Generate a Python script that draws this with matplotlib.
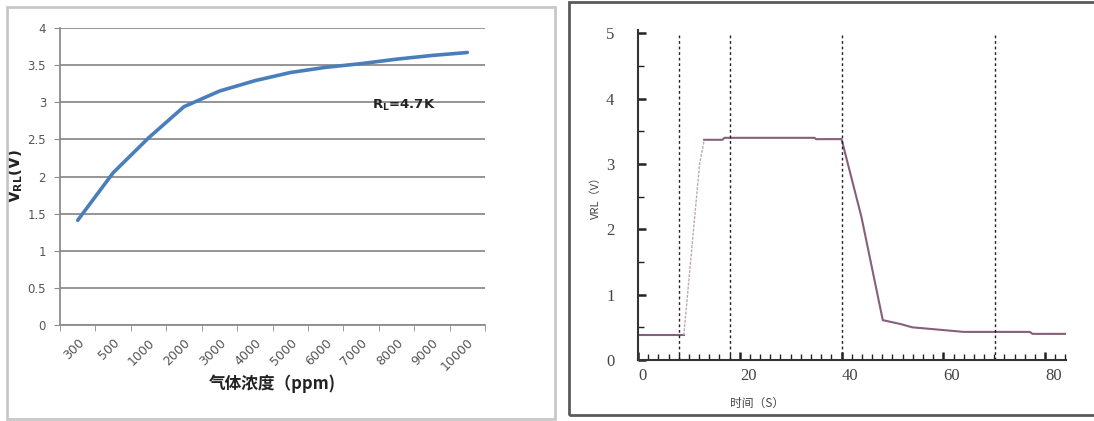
import matplotlib
matplotlib.use('Agg')
import matplotlib.pyplot as plt
from matplotlib.patches import Rectangle

plt.rcParams['font.family'] = ['DejaVu Sans', 'Noto Sans CJK SC']

# ─── 데이터 ───────────────────────────────────────────
# 왼쪽: 가스 농도 - 출력 전압
conc_labels = ['300', '500', '1000', '2000', '3000', '4000',
               '5000', '6000', '7000', '8000', '9000', '10000']
v_rl = [1.41, 2.05, 2.52, 2.94, 3.15, 3.29, 3.40, 3.47, 3.52, 3.58, 3.63, 3.67]
left_yticks = [0, 0.5, 1, 1.5, 2, 2.5, 3, 3.5, 4]

# 오른쪽: 시간 응답
t_base = [0, 9.0]
v_base = [0.38, 0.38]
t_rise = [9.0, 12.1, 13.0]
v_rise = [0.38, 3.0, 3.36]
t_main = [13.0, 16.6, 17.0, 34.7, 35.0, 40.0, 43.9, 48.1, 51.6, 53.9,
          58.3, 64.0, 77.0, 77.5, 84.0]
v_main = [3.37, 3.37, 3.40, 3.40, 3.38, 3.38, 2.19, 0.61, 0.55, 0.50,
          0.47, 0.43, 0.43, 0.40, 0.40]
t_marks = [8.0, 18.0, 40.0, 70.2]
right_xticks = [0, 20, 40, 60, 80]
right_yticks = [0, 1, 2, 3, 4, 5]

W, H = 1094, 421
fig = plt.figure(figsize=(W / 100, H / 100), dpi=100)
fig.patch.set_facecolor('white')


def px_rect(x0, y0, x1, y1):
    """픽셀 좌표(위쪽 기준) -> figure 비율"""
    return [x0 / W, 1 - y1 / H, (x1 - x0) / W, (y1 - y0) / H]


# 패널 테두리
fig.patches.append(Rectangle((7 / W, 1 - 419 / H), (555 - 7) / W, (419 - 7) / H,
                             transform=fig.transFigure, fill=False,
                             edgecolor='#c8c8c8', linewidth=2))
fig.patches.append(Rectangle((569 / W, 1 - 415 / H), (1100 - 569) / W, (415 - 2) / H,
                             transform=fig.transFigure, fill=False,
                             edgecolor='#5a5a5a', linewidth=2))

# ─── 왼쪽 그래프 ──────────────────────────────────────
ax1 = fig.add_axes(px_rect(60, 28, 485, 325))
xs = list(range(len(conc_labels)))
ax1.plot(xs, v_rl, color='#4a7ebb', linewidth=2.6, solid_capstyle='round')
ax1.set_xlim(-0.5, len(conc_labels) - 0.5)
ax1.set_ylim(0, 4)
ax1.set_yticks(left_yticks)
ax1.set_yticklabels([f'{v:g}' for v in left_yticks], color='#555555', fontsize=8.5)
ax1.yaxis.grid(True, color='#8c8c8c', linewidth=1.3)
ax1.set_axisbelow(True)
ax1.set_xticks(xs)
ax1.set_xticklabels(conc_labels, rotation=45, ha='right', rotation_mode='anchor',
                    color='#555555', fontsize=9)
ax1.set_xticks([x - 0.5 for x in range(len(conc_labels) + 1)], minor=True)
ax1.tick_params(axis='x', which='major', length=0, pad=8)
ax1.tick_params(axis='x', which='minor', length=4, color='#8c8c8c', direction='out')
ax1.tick_params(axis='y', length=4, color='#8c8c8c', pad=6)
for s in ['top', 'right']:
    ax1.spines[s].set_visible(False)
ax1.spines['left'].set_color('#8c8c8c')
ax1.spines['bottom'].set_color('#8c8c8c')
ax1.spines['left'].set_linewidth(1.3)
ax1.spines['bottom'].set_linewidth(1.3)
ax1.set_ylabel(r'V$_{\mathregular{RL}}$(V)', fontsize=11, fontweight='bold',
               color='#222222', labelpad=2)
ax1.set_xlabel('气体浓度（ppm)', fontsize=12, fontweight='bold', color='#222222',
               family=['Noto Sans CJK SC', 'DejaVu Sans'], labelpad=1)
ax1.text(9.2, 2.96, r'R$_{\mathregular{L}}$=4.7K', fontsize=9.5, fontweight='bold',
         color='#222222', ha='center', va='center')

# ─── 오른쪽 그래프 ─────────────────────────────────────
ax2 = fig.add_axes(px_rect(638, 30, 1066, 360))
line_c = '#85607a'
ax2.plot(t_base, v_base, color=line_c, linewidth=1.5)
ax2.plot(t_rise, v_rise, color='#bba9b5', linewidth=1.0, linestyle=(0, (2, 1)))
ax2.plot(t_main, v_main, color=line_c, linewidth=1.5)
for t in t_marks:
    ax2.plot([t, t], [0, 5], color='#222222', linewidth=1.0, linestyle=(0, (2, 2)))
ax2.set_xlim(0, 84.1)
ax2.set_ylim(0, 5.05)
ax2.set_xticks(right_xticks)
ax2.set_xticks(list(range(0, 85, 2)), minor=True)
ax2.set_yticks(right_yticks)
ax2.set_yticks([y + 0.5 for y in right_yticks[:-1]], minor=True)
tick_font = ['Liberation Serif', 'DejaVu Serif']
for lab in ax2.get_xticklabels() + ax2.get_yticklabels():
    lab.set_family(tick_font)
    lab.set_fontsize(12)
    lab.set_color('#444444')
# 원본은 x 눈금 라벨이 눈금보다 약간 오른쪽에 찍혀 있음
for lab in ax2.get_xticklabels():
    lab.set_horizontalalignment('left')
ax2.tick_params(which='major', direction='in', length=6, width=1.8, color='#222222')
ax2.tick_params(which='minor', direction='in', length=4, width=1.0, color='#222222')
ax2.tick_params(axis='y', pad=17)
ax2.tick_params(axis='x', pad=6)
for s in ['top', 'right']:
    ax2.spines[s].set_visible(False)
for s in ['left', 'bottom']:
    ax2.spines[s].set_color('#333333')
    ax2.spines[s].set_linewidth(1.5)
ax2.set_ylabel('VRL（V）', fontsize=8, color='#444444',
               family=['Noto Sans CJK SC', 'DejaVu Sans'], labelpad=4)
fig.text(757 / W, 1 - 403 / H, '时间（S）', fontsize=8.5, color='#444444',
         family=['Noto Sans CJK SC', 'DejaVu Sans'], ha='center', va='center')

fig.savefig('out.png', dpi=100)
